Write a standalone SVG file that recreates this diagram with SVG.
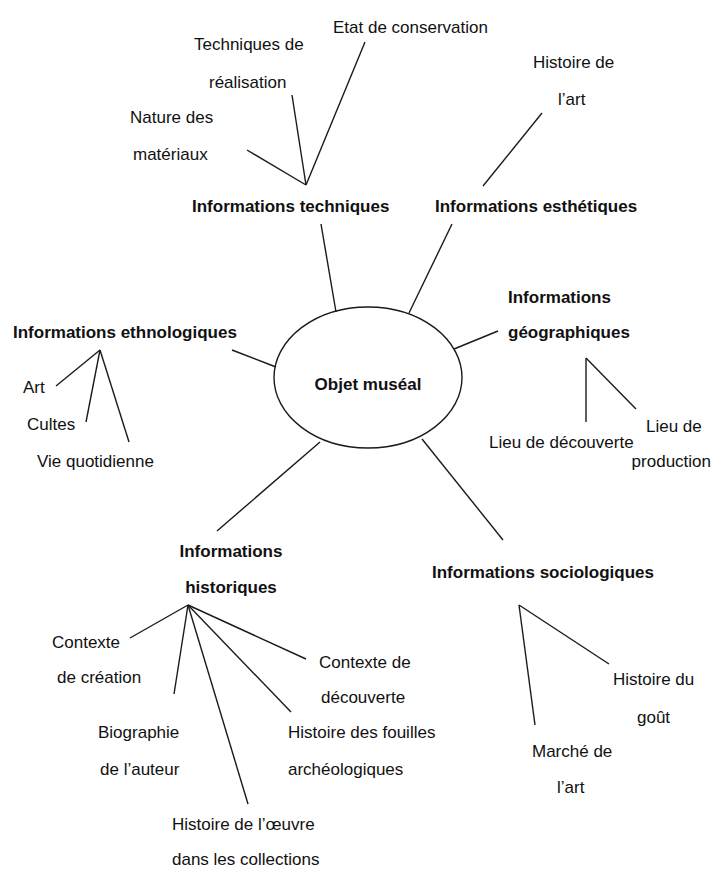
<svg xmlns="http://www.w3.org/2000/svg" width="713" height="869" viewBox="0 0 713 869">
<style>
text{font-family:"Liberation Sans",Arial,sans-serif;font-size:17px;fill:#111}
.b{font-weight:bold}
.c line{stroke:#1a1a1a;stroke-width:1.4}
</style>
<rect width="713" height="869" fill="#fff"/>
<g class="c" id="connectors">
<line x1="321" y1="224" x2="336" y2="312"/>
<line x1="452" y1="224" x2="409" y2="313"/>
<line x1="232" y1="350" x2="276" y2="367"/>
<line x1="454" y1="349" x2="498" y2="331"/>
<line x1="320" y1="442" x2="217" y2="531"/>
<line x1="422" y1="439" x2="503" y2="540"/>
<line x1="306" y1="185" x2="247" y2="150"/>
<line x1="306" y1="185" x2="292" y2="95"/>
<line x1="306" y1="185" x2="365" y2="42"/>
<line x1="483" y1="186" x2="542" y2="113"/>
<line x1="100" y1="350" x2="56" y2="386"/>
<line x1="100" y1="350" x2="86" y2="422"/>
<line x1="100" y1="350" x2="129" y2="442"/>
<line x1="586" y1="358" x2="586" y2="422"/>
<line x1="586" y1="358" x2="636" y2="409"/>
<line x1="188" y1="605" x2="130" y2="638"/>
<line x1="188" y1="605" x2="174" y2="694"/>
<line x1="188" y1="605" x2="248" y2="804"/>
<line x1="188" y1="605" x2="291" y2="712"/>
<line x1="188" y1="605" x2="306" y2="659"/>
<line x1="519" y1="605" x2="609" y2="664"/>
<line x1="519" y1="605" x2="535" y2="725"/>
</g>
<g id="objet">
<ellipse cx="368" cy="377.5" rx="94" ry="70.5" fill="none" stroke="#1a1a1a" stroke-width="1.4"/>
<text class="b" x="368" y="390" text-anchor="middle">Objet muséal</text>
</g>
<g id="techniques">
<text class="b" x="192" y="212">Informations techniques</text>
</g>
<g id="etat"><text x="333" y="33">Etat de conservation</text></g>
<g id="techreal"><text x="194" y="50">Techniques de</text><text x="209" y="88">réalisation</text></g>
<g id="nature"><text x="130" y="123">Nature des</text><text x="133" y="160">matériaux</text></g>
<g id="esthetiques"><text class="b" x="435" y="212">Informations esthétiques</text></g>
<g id="histart"><text x="533" y="68">Histoire de</text><text x="558" y="105">l’art</text></g>
<g id="ethno"><text class="b" x="13" y="338">Informations ethnologiques</text></g>
<g id="art"><text x="23" y="393">Art</text></g>
<g id="cultes"><text x="27" y="430">Cultes</text></g>
<g id="vie"><text x="37" y="467">Vie quotidienne</text></g>
<g id="geo"><text class="b" x="508" y="303">Informations</text><text class="b" x="508" y="338">géographiques</text></g>
<g id="lieuprod"><text x="646" y="432">Lieu de</text><text x="711" y="467" text-anchor="end">production</text></g>
<g id="lieudec"><text x="489" y="448">Lieu de découverte</text></g>
<g id="histo"><text class="b" x="231" y="557" text-anchor="middle">Informations</text><text class="b" x="231" y="593" text-anchor="middle">historiques</text></g>
<g id="contcrea"><text x="52" y="648">Contexte</text><text x="57" y="683">de création</text></g>
<g id="bio"><text x="98" y="738">Biographie</text><text x="100" y="775">de l’auteur</text></g>
<g id="oeuvre"><text x="172" y="830">Histoire de l’œuvre</text><text x="172" y="865">dans les collections</text></g>
<g id="fouilles"><text x="288" y="738">Histoire des fouilles</text><text x="288" y="775">archéologiques</text></g>
<g id="contdec"><text x="319" y="668">Contexte de</text><text x="321" y="703">découverte</text></g>
<g id="socio"><text class="b" x="432" y="578">Informations sociologiques</text></g>
<g id="gout"><text x="613" y="685">Histoire du</text><text x="637" y="723">goût</text></g>
<g id="marche"><text x="532" y="757">Marché de</text><text x="557" y="793">l’art</text></g>
</svg>
